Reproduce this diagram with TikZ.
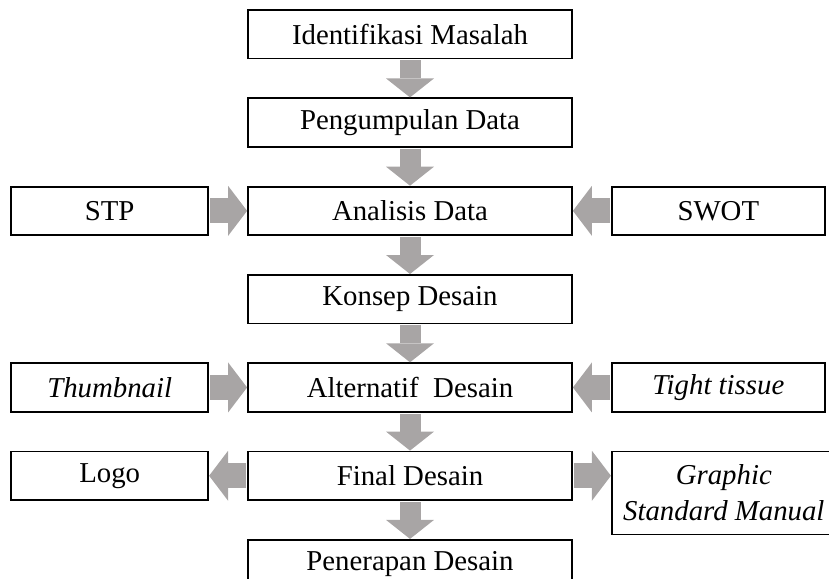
\documentclass[tikz,border=0pt]{standalone}
\usepackage{fontspec}
\setmainfont{Liberation Serif}
\usetikzlibrary{positioning,arrows.meta}
\definecolor{arrowgray}{RGB}{168,165,165}

\begin{document}
\begin{tikzpicture}[x=0.5pt, y=-0.5pt, node distance={19pt},
        box/.style = {draw, line width=0.9pt, minimum height=24.25pt, inner sep=1pt, align=center, font=\fontsize{14.4}{18}\selectfont},
        mainbox/.style = {box, minimum width=162pt},
        sidebox/.style = {box, minimum width=98.5pt},
        widebox/.style = {box, minimum width=106.5pt},
        downarr/.style = {arrowgray, line width=10.5pt, shorten <=0.45pt, -{Triangle[width=24pt, length=9.5pt, line width=0pt]}},
        sidearr/.style = {arrowgray, line width=12.5pt, shorten <=0.45pt, -{Triangle[width=25pt, length=9.5pt, line width=0pt]}}]
        \useasboundingbox (0,0) rectangle (829,578);

        \node[mainbox] (ident) at (410,34.25) {Identifikasi Masalah};
        \node[mainbox] (kumpul) [below=of ident] {Pengumpulan Data};
        \node[mainbox] (analisis) [below=of kumpul] {Analisis Data};
        \node[mainbox] (konsep) [below=of analisis] {Konsep Desain};
        \node[mainbox] (alt) [below=of konsep] {Alternatif~ Desain};
        \node[mainbox] (final) [below=of alt] {Final Desain};
        \node[mainbox] (terap) [below=of final] {Penerapan Desain};

        \node[sidebox] (stp) [left=of analisis] {STP};
        \node[widebox] (swot) [right=of analisis] {SWOT};
        \node[sidebox] (thumb) [left=of alt] {\textit{Thumbnail}};
        \node[widebox] (tight) [right=of alt] {\textit{Tight tissue}};
        \node[sidebox] (logo) [left=of final] {Logo};
        \node[box, minimum width=112pt, minimum height=41.5pt] (gsm) [below right=0pt and 19pt of final.north east] {\textit{Graphic}\\\textit{Standard Manual}};

        \draw[downarr] (ident) -- (kumpul);
        \draw[downarr] (kumpul) -- (analisis);
        \draw[downarr] (analisis) -- (konsep);
        \draw[downarr] (konsep) -- (alt);
        \draw[downarr] (alt) -- (final);
        \draw[downarr] (final) -- (terap);
        \draw[sidearr] (stp) -- (analisis);
        \draw[sidearr] (swot) -- (analisis);
        \draw[sidearr] (thumb) -- (alt);
        \draw[sidearr] (tight) -- (alt);
        \draw[sidearr] (final) -- (logo);
        \draw[sidearr] (final.east) -- (final.east -| gsm.west);

    \end{tikzpicture}
\end{document}
